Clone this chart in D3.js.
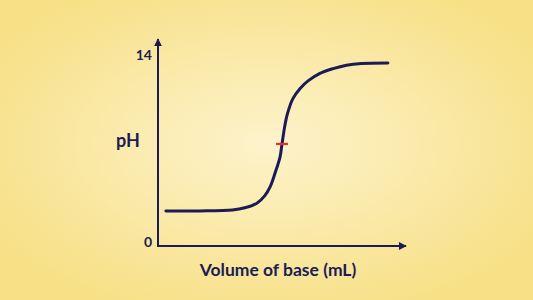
<!DOCTYPE html>
<html>
<head>
<meta charset="utf-8">
<script src="https://cdn.jsdelivr.net/npm/d3@7"></script>
<style>
  html, body { margin: 0; padding: 0; }
  body { width: 533px; height: 300px; overflow: hidden; }
</style>
</head>
<body>
<div></div>
<script>
var width = 533;
var height = 300;

// titration curve (volume in mL, pH)
var volume = [3.2, 17, 30, 35, 40, 43, 45.2, 47.2, 49.2, 50, 51.2, 52.2, 54.4, 57.3, 60.5, 65.3, 70.6, 76, 82, 92.7];
var ph     = [2.57, 2.57, 2.64, 2.8, 3.15, 3.67, 4.33, 5.35, 6.52, 7.48, 8.87, 9.7, 10.8, 11.55, 12.1, 12.65, 13.0, 13.25, 13.38, 13.42];
var yTicks = [0, 14];
var equivalence = [50, 7.48];

var navy = "#1b1c55";

var svg = d3.select("div")
			.append("svg")
			.attr("width", width)
			.attr("height", height);

var defs = svg.append("defs");
var grad = defs.append("radialGradient")
			.attr("id", "bg")
			.attr("cx", "50%").attr("cy", "48%").attr("r", "60%");
grad.append("stop").attr("offset", "0%").attr("stop-color", "#fdf3cc");
grad.append("stop").attr("offset", "100%").attr("stop-color", "#f7e086");

svg.append("rect")
	.attr("width", width)
	.attr("height", height)
	.attr("fill", "url(#bg)");

var x = d3.scaleLinear().domain([0, 100]).range([158, 406]);
var y = d3.scaleLinear().domain([0, 14]).range([246, 55]);

defs.append("marker")
	.attr("id", "arrow")
	.attr("viewBox", "0 0 10 10")
	.attr("refX", 9).attr("refY", 5)
	.attr("markerWidth", 4).attr("markerHeight", 4)
	.attr("orient", "auto")
	.append("path")
	.attr("d", "M0,0L10,5L0,10z")
	.attr("fill", navy);

// axes
svg.append("line")
	.attr("x1", x(0)).attr("y1", y(0))
	.attr("x2", x(0)).attr("y2", 39)
	.attr("stroke", navy).attr("stroke-width", 2)
	.attr("marker-end", "url(#arrow)");

svg.append("line")
	.attr("x1", x(0) - 1).attr("y1", y(0))
	.attr("x2", x(100)).attr("y2", y(0))
	.attr("stroke", navy).attr("stroke-width", 2)
	.attr("marker-end", "url(#arrow)");

svg.selectAll(".tick")
	.data(yTicks)
	.enter().append("text")
	.attr("x", x(0) - 6)
	.attr("y", function(d) { return d == 0 ? y(d) - 4 : y(d); })
	.attr("dy", "0.35em")
	.attr("text-anchor", "end")
	.attr("font-family", "Lato")
	.attr("font-weight", "bold")
	.attr("font-size", "14px")
	.attr("fill", navy)
	.text(function(d) { return d; });

svg.append("text")
	.attr("x", 128)
	.attr("y", 141)
	.attr("dy", "0.35em")
	.attr("text-anchor", "middle")
	.attr("font-family", "Lato")
	.attr("font-weight", "bold")
	.attr("font-size", "18px")
	.attr("fill", navy)
	.text("pH");

svg.append("text")
	.attr("x", 278)
	.attr("y", 270)
	.attr("dy", "0.35em")
	.attr("text-anchor", "middle")
	.attr("font-family", "Lato")
	.attr("font-weight", "bold")
	.attr("font-size", "17.5px")
	.attr("fill", navy)
	.text("Volume of base (mL)");

var line = d3.line()
			.x(function(d, i) { return x(volume[i]); })
			.y(function(d, i) { return y(ph[i]); })
			.curve(d3.curveCatmullRom.alpha(0.5));

svg.append("path")
	.attr("d", line(volume))
	.attr("fill", "none")
	.attr("stroke", navy)
	.attr("stroke-width", 3)
	.attr("stroke-linecap", "round");

// equivalence point marker
svg.append("line")
	.attr("x1", x(equivalence[0]) - 6).attr("y1", y(equivalence[1]))
	.attr("x2", x(equivalence[0]) + 6).attr("y2", y(equivalence[1]))
	.attr("stroke", "#e0302b")
	.attr("stroke-width", 2.2);
</script>
</body>
</html>
